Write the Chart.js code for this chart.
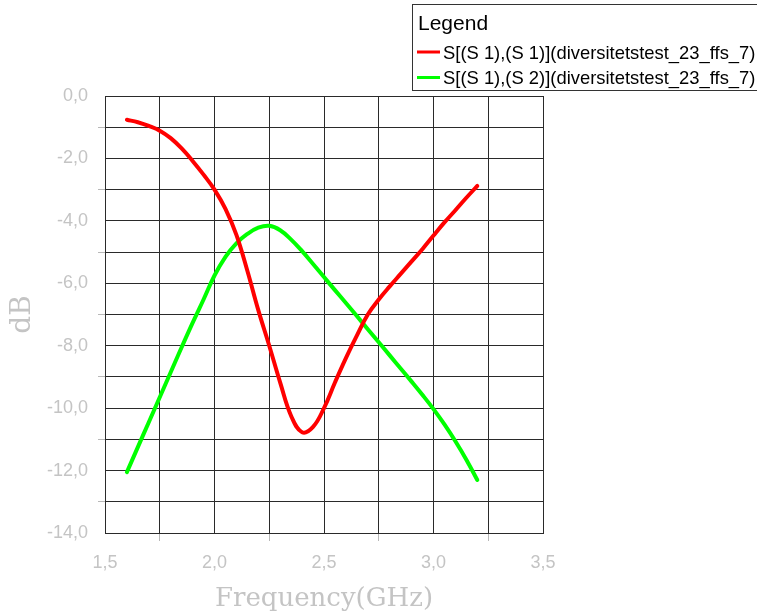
<!DOCTYPE html>
<html>
<head>
<meta charset="utf-8">
<title>S-parameters</title>
<script src="https://cdn.jsdelivr.net/npm/chart.js@4.4.1/dist/chart.umd.min.js"></script>
<style>
  html, body { margin: 0; padding: 0; background: #ffffff; }
  #wrap { width: 757px; height: 615px; }
</style>
</head>
<body>
<div id="wrap"><canvas id="chart" width="757" height="615"></canvas></div>
<script>
// Sweep frequencies (GHz), shared by both traces
const freqGHz = [1.60, 1.65, 1.70, 1.75, 1.80, 1.85, 1.90, 1.95, 2.00, 2.05, 2.10, 2.15, 2.20, 2.25, 2.30, 2.35, 2.40, 2.45, 2.50, 2.55, 2.60, 2.65, 2.70, 2.75, 2.80, 2.85, 2.90, 2.95, 3.00, 3.05, 3.10, 3.15, 3.20];

// Reflection S11 (red), dB
const s11Db = [-0.76, -0.84, -0.96, -1.11, -1.35, -1.68, -2.08, -2.52, -3.0, -3.62, -4.45, -5.6, -6.86, -8.0, -9.18, -10.25, -10.77, -10.6, -10.0, -9.18, -8.4, -7.68, -7.0, -6.52, -6.1, -5.7, -5.3, -4.9, -4.47, -4.05, -3.66, -3.26, -2.88];

// Coupling S21 (green), dB
const s21Db = [-12.05, -11.25, -10.45, -9.65, -8.85, -8.05, -7.27, -6.52, -5.75, -5.15, -4.72, -4.42, -4.22, -4.16, -4.3, -4.6, -4.97, -5.38, -5.8, -6.22, -6.63, -7.05, -7.47, -7.89, -8.31, -8.73, -9.15, -9.58, -10.03, -10.52, -11.06, -11.65, -12.3];

const seriesNames = ['S[(S 1),(S 1)](diversitetstest_23_ffs_7)', 'S[(S 1),(S 2)](diversitetstest_23_ffs_7)'];
const legendTitle = 'Legend';

// Axis ranges and labelled tick values
const xMin = 1.5, xMax = 3.5, xStep = 0.25;
const yMin = -14, yMax = 0, yStep = 1;
const xLabelled = [1.5, 2.0, 2.5, 3.0, 3.5];
const yLabelled = [0, -2, -4, -6, -8, -10, -12, -14];
const xTitle = 'Frequency(GHz)';
const yTitle = 'dB';

const fmt = v => v.toFixed(1).replace('.', ',');
const isLabelled = (list, v) => list.some(t => Math.abs(t - v) < 1e-6);
const toPoints = (xs, ys) => xs.map((x, i) => ({ x: x, y: ys[i] }));

const labelGrey = '#c4c4c4';
const gridDark = '#2a2a2a';
const tickFont = { family: '"Liberation Sans", Arial, sans-serif', size: 18 };
const titleFont = { family: '"DejaVu Serif", serif', size: 26 };

const whiteBg = {
  id: 'whiteBg',
  beforeDraw(chart) {
    const c = chart.ctx;
    c.save();
    c.fillStyle = '#ffffff';
    c.fillRect(0, 0, chart.width, chart.height);
    c.restore();
  }
};

const boxedLegend = {
  id: 'boxedLegend',
  afterDraw(chart) {
    const c = chart.ctx;
    c.save();
    c.fillStyle = '#ffffff';
    c.fillRect(412.5, 4.5, 360, 86);
    c.strokeStyle = '#333333';
    c.lineWidth = 1;
    c.strokeRect(412.5, 4.5, 360, 86);
    c.fillStyle = '#000000';
    c.textAlign = 'left';
    c.textBaseline = 'alphabetic';
    c.font = '21px "Liberation Sans", Arial, sans-serif';
    c.fillText(legendTitle, 418, 30);
    c.font = '18.4px "Liberation Sans", Arial, sans-serif';
    chart.data.datasets.forEach((ds, i) => {
      const y = 52 + i * 25.5;
      c.strokeStyle = ds.borderColor;
      c.lineWidth = 3;
      c.beginPath();
      c.moveTo(417, y);
      c.lineTo(440, y);
      c.stroke();
      c.fillStyle = '#000000';
      c.fillText(ds.label, 443, y + 6.5);
    });
    c.restore();
  }
};

const lineStyle = {
  borderWidth: 4,
  borderCapStyle: 'round',
  borderJoinStyle: 'round',
  pointRadius: 0,
  tension: 0.4,
  fill: false
};

new Chart(document.getElementById('chart'), {
  type: 'line',
  data: {
    datasets: [
      Object.assign({ label: seriesNames[0], data: toPoints(freqGHz, s11Db), borderColor: '#ff0000' }, lineStyle),
      Object.assign({ label: seriesNames[1], data: toPoints(freqGHz, s21Db), borderColor: '#00ff00' }, lineStyle)
    ]
  },
  options: {
    responsive: false,
    animation: false,
    layout: { padding: { top: 96, right: 214, left: 0, bottom: 0 } },
    plugins: {
      legend: { display: false },
      tooltip: { enabled: false }
    },
    scales: {
      x: {
        type: 'linear',
        min: xMin,
        max: xMax,
        afterFit(scale) { scale.height = 82; },
        border: { color: gridDark, width: 1 },
        grid: {
          color: gridDark,
          lineWidth: 1,
          drawTicks: true,
          tickLength: 8,
          tickColor: ctx => (ctx.tick && isLabelled(xLabelled, ctx.tick.value)) ? 'rgba(0,0,0,0)' : '#b8b8b8'
        },
        ticks: {
          stepSize: xStep,
          autoSkip: false,
          maxRotation: 0,
          color: labelGrey,
          font: tickFont,
          padding: 11,
          callback: v => isLabelled(xLabelled, v) ? fmt(v) : ''
        },
        title: {
          display: true,
          text: xTitle,
          color: labelGrey,
          font: titleFont,
          padding: { top: 7, bottom: 0 }
        }
      },
      y: {
        type: 'linear',
        min: yMin,
        max: yMax,
        afterFit(scale) { scale.width = 105; },
        border: { color: gridDark, width: 1 },
        grid: {
          color: gridDark,
          lineWidth: 1,
          drawTicks: true,
          tickLength: 7,
          tickColor: ctx => (ctx.tick && isLabelled(yLabelled, ctx.tick.value)) ? 'rgba(0,0,0,0)' : '#b8b8b8'
        },
        ticks: {
          stepSize: yStep,
          autoSkip: false,
          color: labelGrey,
          font: tickFont,
          padding: 10,
          callback: v => isLabelled(yLabelled, v) ? fmt(v) : ''
        },
        title: {
          display: true,
          text: yTitle,
          color: labelGrey,
          font: { family: titleFont.family, size: 28 },
          padding: { top: 6, bottom: 0 }
        }
      }
    }
  },
  plugins: [whiteBg, boxedLegend]
});
</script>
</body>
</html>
